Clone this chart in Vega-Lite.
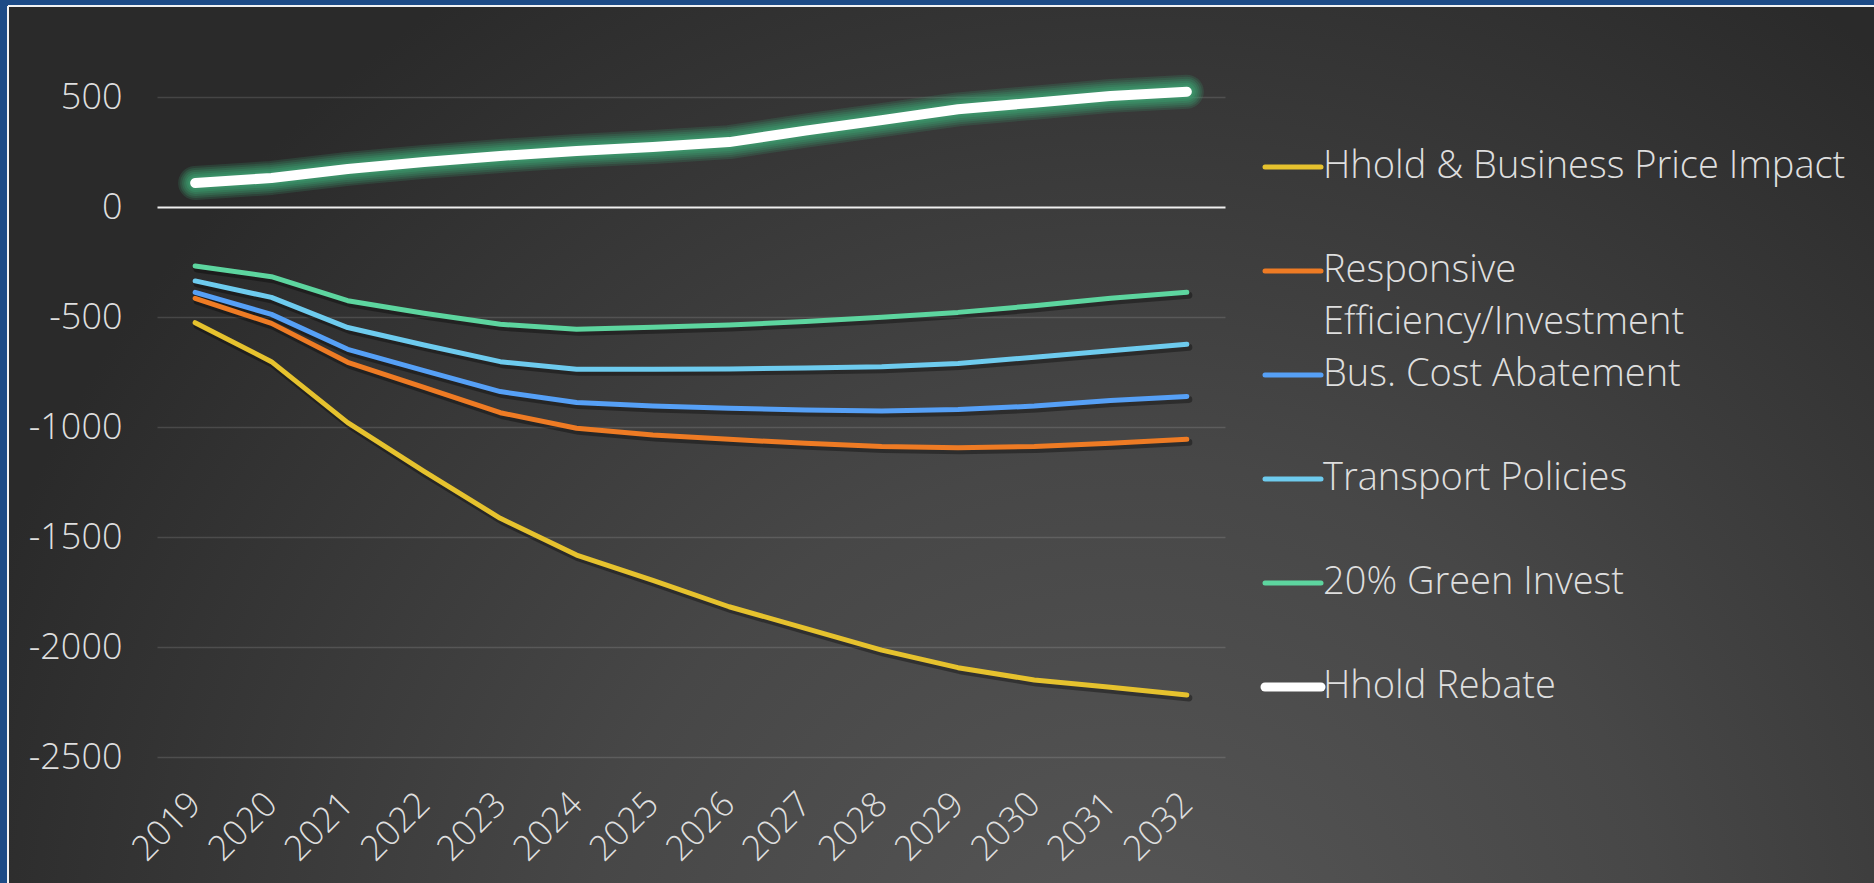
{
  "$schema": "https://vega.github.io/schema/vega-lite/v6.json",
  "width": 1866,
  "height": 877,
  "autosize": {"type": "none"},
  "padding": {"left": 8, "top": 6, "right": 0, "bottom": 0},
  "background": "#1d4b86",
  "config": {
    "font": "Open Sans",
    "view": {
      "fill": {
        "gradient": "radial",
        "x1": 0.6, "y1": 0.8, "r1": 0,
        "x2": 0.6, "y2": 0.8, "r2": 0.65,
        "stops": [
          {"offset": 0, "color": "#575757"},
          {"offset": 0.45, "color": "#474747"},
          {"offset": 1, "color": "#2a2a2a"}
        ]
      },
      "stroke": "#f2f2f2",
      "strokeWidth": 2,
      "strokeDash": [1866, 2743, 877, 0]
    }
  },
  "data": {
    "values": [
      {"year": "2019", "series": "Hhold & Business Price Impact", "value": -526},
      {"year": "2020", "series": "Hhold & Business Price Impact", "value": -703},
      {"year": "2021", "series": "Hhold & Business Price Impact", "value": -980},
      {"year": "2022", "series": "Hhold & Business Price Impact", "value": -1202},
      {"year": "2023", "series": "Hhold & Business Price Impact", "value": -1415},
      {"year": "2024", "series": "Hhold & Business Price Impact", "value": -1582},
      {"year": "2025", "series": "Hhold & Business Price Impact", "value": -1697},
      {"year": "2026", "series": "Hhold & Business Price Impact", "value": -1817},
      {"year": "2027", "series": "Hhold & Business Price Impact", "value": -1915},
      {"year": "2028", "series": "Hhold & Business Price Impact", "value": -2014},
      {"year": "2029", "series": "Hhold & Business Price Impact", "value": -2094},
      {"year": "2030", "series": "Hhold & Business Price Impact", "value": -2150},
      {"year": "2031", "series": "Hhold & Business Price Impact", "value": -2183},
      {"year": "2032", "series": "Hhold & Business Price Impact", "value": -2218},
      {"year": "2019", "series": "Responsive Efficiency/Investment", "value": -415},
      {"year": "2020", "series": "Responsive Efficiency/Investment", "value": -529},
      {"year": "2021", "series": "Responsive Efficiency/Investment", "value": -706},
      {"year": "2022", "series": "Responsive Efficiency/Investment", "value": -820},
      {"year": "2023", "series": "Responsive Efficiency/Investment", "value": -935},
      {"year": "2024", "series": "Responsive Efficiency/Investment", "value": -1006},
      {"year": "2025", "series": "Responsive Efficiency/Investment", "value": -1036},
      {"year": "2026", "series": "Responsive Efficiency/Investment", "value": -1056},
      {"year": "2027", "series": "Responsive Efficiency/Investment", "value": -1074},
      {"year": "2028", "series": "Responsive Efficiency/Investment", "value": -1089},
      {"year": "2029", "series": "Responsive Efficiency/Investment", "value": -1094},
      {"year": "2030", "series": "Responsive Efficiency/Investment", "value": -1089},
      {"year": "2031", "series": "Responsive Efficiency/Investment", "value": -1074},
      {"year": "2032", "series": "Responsive Efficiency/Investment", "value": -1056},
      {"year": "2019", "series": "Bus. Cost Abatement", "value": -388},
      {"year": "2020", "series": "Bus. Cost Abatement", "value": -488},
      {"year": "2021", "series": "Bus. Cost Abatement", "value": -647},
      {"year": "2022", "series": "Bus. Cost Abatement", "value": -744},
      {"year": "2023", "series": "Bus. Cost Abatement", "value": -839},
      {"year": "2024", "series": "Bus. Cost Abatement", "value": -889},
      {"year": "2025", "series": "Bus. Cost Abatement", "value": -905},
      {"year": "2026", "series": "Bus. Cost Abatement", "value": -915},
      {"year": "2027", "series": "Bus. Cost Abatement", "value": -923},
      {"year": "2028", "series": "Bus. Cost Abatement", "value": -927},
      {"year": "2029", "series": "Bus. Cost Abatement", "value": -920},
      {"year": "2030", "series": "Bus. Cost Abatement", "value": -905},
      {"year": "2031", "series": "Bus. Cost Abatement", "value": -880},
      {"year": "2032", "series": "Bus. Cost Abatement", "value": -861},
      {"year": "2019", "series": "Transport Policies", "value": -336},
      {"year": "2020", "series": "Transport Policies", "value": -411},
      {"year": "2021", "series": "Transport Policies", "value": -548},
      {"year": "2022", "series": "Transport Policies", "value": -627},
      {"year": "2023", "series": "Transport Policies", "value": -703},
      {"year": "2024", "series": "Transport Policies", "value": -738},
      {"year": "2025", "series": "Transport Policies", "value": -738},
      {"year": "2026", "series": "Transport Policies", "value": -736},
      {"year": "2027", "series": "Transport Policies", "value": -732},
      {"year": "2028", "series": "Transport Policies", "value": -726},
      {"year": "2029", "series": "Transport Policies", "value": -711},
      {"year": "2030", "series": "Transport Policies", "value": -683},
      {"year": "2031", "series": "Transport Policies", "value": -653},
      {"year": "2032", "series": "Transport Policies", "value": -624},
      {"year": "2019", "series": "20% Green Invest", "value": -268},
      {"year": "2020", "series": "20% Green Invest", "value": -317},
      {"year": "2021", "series": "20% Green Invest", "value": -426},
      {"year": "2022", "series": "20% Green Invest", "value": -483},
      {"year": "2023", "series": "20% Green Invest", "value": -533},
      {"year": "2024", "series": "20% Green Invest", "value": -556},
      {"year": "2025", "series": "20% Green Invest", "value": -547},
      {"year": "2026", "series": "20% Green Invest", "value": -536},
      {"year": "2027", "series": "20% Green Invest", "value": -521},
      {"year": "2028", "series": "20% Green Invest", "value": -501},
      {"year": "2029", "series": "20% Green Invest", "value": -479},
      {"year": "2030", "series": "20% Green Invest", "value": -449},
      {"year": "2031", "series": "20% Green Invest", "value": -415},
      {"year": "2032", "series": "20% Green Invest", "value": -388},
      {"year": "2019", "series": "Hhold Rebate", "value": 109},
      {"year": "2020", "series": "Hhold Rebate", "value": 132},
      {"year": "2021", "series": "Hhold Rebate", "value": 173},
      {"year": "2022", "series": "Hhold Rebate", "value": 205},
      {"year": "2023", "series": "Hhold Rebate", "value": 232},
      {"year": "2024", "series": "Hhold Rebate", "value": 255},
      {"year": "2025", "series": "Hhold Rebate", "value": 273},
      {"year": "2026", "series": "Hhold Rebate", "value": 295},
      {"year": "2027", "series": "Hhold Rebate", "value": 347},
      {"year": "2028", "series": "Hhold Rebate", "value": 395},
      {"year": "2029", "series": "Hhold Rebate", "value": 444},
      {"year": "2030", "series": "Hhold Rebate", "value": 474},
      {"year": "2031", "series": "Hhold Rebate", "value": 505},
      {"year": "2032", "series": "Hhold Rebate", "value": 524}
    ]
  },
  "encoding": {
    "x": {
      "field": "year",
      "type": "ordinal",
      "bandPosition": 0.5,
      "scale": {"type": "band", "range": [149, 1217], "paddingInner": 0, "paddingOuter": 0},
      "axis": {
        "title": null,
        "domain": false,
        "ticks": false,
        "tickSize": 0,
        "grid": false,
        "bandPosition": 0.5,
        "labelAngle": -45,
        "labelAlign": "right",
        "labelBaseline": "middle",
        "labelPadding": 0,
        "offset": -85,
        "labelFont": "Open Sans",
        "labelFontWeight": 300,
        "labelFontSize": 35,
        "labelColor": "#dedede"
      }
    },
    "y": {
      "field": "value",
      "type": "quantitative",
      "scale": {"domain": [-2500, 500], "range": [751, 91], "nice": false, "zero": false},
      "axis": {
        "title": null,
        "values": [500, 0, -500, -1000, -1500, -2000, -2500],
        "labelExpr": "toString(datum.value)",
        "domain": false,
        "ticks": false,
        "tickSize": 0,
        "labelPadding": 0,
        "offset": -114,
        "labelFont": "Open Sans",
        "labelFontWeight": 300,
        "labelFontSize": 36,
        "labelColor": "#dedede",
        "labelBaseline": "middle",
        "grid": true,
        "gridColor": {"condition": {"test": "datum.value === 0", "value": "#eeeeee"}, "value": "#ffffff"},
        "gridOpacity": {"condition": {"test": "datum.value === 0", "value": 1}, "value": 0.13},
        "gridWidth": {"condition": {"test": "datum.value === 0", "value": 2}, "value": 1.5}
      }
    }
  },
  "layer": [
    {
      "transform": [{"filter": "datum.series !== 'Hhold Rebate'"}],
      "mark": {"type": "line", "stroke": "#000000", "opacity": 0.35, "strokeWidth": 7, "xOffset": 2, "yOffset": 3, "strokeCap": "round", "strokeJoin": "round"},
      "encoding": {"detail": {"field": "series"}}
    },
    {
      "transform": [{"filter": "datum.series === 'Hhold Rebate'"}],
      "mark": {"type": "line", "stroke": "#3d9a6e", "opacity": 0.2, "strokeWidth": 34, "strokeCap": "round", "strokeJoin": "round"},
      "encoding": {}
    },
    {
      "transform": [{"filter": "datum.series === 'Hhold Rebate'"}],
      "mark": {"type": "line", "stroke": "#3d9a6e", "opacity": 0.22, "strokeWidth": 30, "strokeCap": "round", "strokeJoin": "round"},
      "encoding": {}
    },
    {
      "transform": [{"filter": "datum.series === 'Hhold Rebate'"}],
      "mark": {"type": "line", "stroke": "#3d9a6e", "opacity": 0.25, "strokeWidth": 26, "strokeCap": "round", "strokeJoin": "round"},
      "encoding": {}
    },
    {
      "transform": [{"filter": "datum.series === 'Hhold Rebate'"}],
      "mark": {"type": "line", "stroke": "#3d9a6e", "opacity": 0.3, "strokeWidth": 22, "strokeCap": "round", "strokeJoin": "round"},
      "encoding": {}
    },
    {
      "transform": [{"filter": "datum.series === 'Hhold Rebate'"}],
      "mark": {"type": "line", "stroke": "#3d9a6e", "opacity": 0.4, "strokeWidth": 18, "strokeCap": "round", "strokeJoin": "round"},
      "encoding": {}
    },
    {
      "transform": [{"filter": "datum.series === 'Hhold Rebate'"}],
      "mark": {"type": "line", "stroke": "#3d9a6e", "opacity": 0.5, "strokeWidth": 14, "strokeCap": "round", "strokeJoin": "round"},
      "encoding": {}
    },
    {
      "mark": {"type": "line", "strokeCap": "round", "strokeJoin": "round"},
      "encoding": {
        "color": {
          "field": "series",
          "type": "nominal",
          "sort": null,
          "scale": {
            "domain": ["Hhold & Business Price Impact", "Responsive Efficiency/Investment", "Bus. Cost Abatement", "Transport Policies", "20% Green Invest", "Hhold Rebate"],
            "range": ["#e6c22e", "#ee7b24", "#56a0f6", "#6ecbee", "#5dd59f", "#ffffff"]
          },
          "legend": {
            "title": null,
            "orient": "none",
            "legendX": 1266,
            "legendY": 142,
            "padding": 0,
            "gridAlign": "all",
            "symbolType": "stroke",
            "symbolSize": 3136,
            "symbolStrokeWidth": 5,
            "labelFont": "Open Sans",
            "labelFontWeight": 300,
            "labelFontSize": 38,
            "labelColor": "#dedede",
            "labelLimit": 800,
            "labelOffset": 11,
            "rowPadding": 14,
            "labelExpr": "datum.label === 'Responsive Efficiency/Investment' ? ['Responsive', 'Efficiency/Investment'] : datum.label",
            "encode": {
              "symbols": {"update": {
                "strokeWidth": {"signal": "datum.value === 'Hhold Rebate' ? 9 : 5"},
                "strokeCap": {"value": "round"}
              }},
              "labels": {"update": {"lineHeight": {"value": 52}}}
            }
          }
        },
        "strokeWidth": {"condition": {"test": "datum.series === 'Hhold Rebate'", "value": 10}, "value": 5}
      }
    }
  ]
}
